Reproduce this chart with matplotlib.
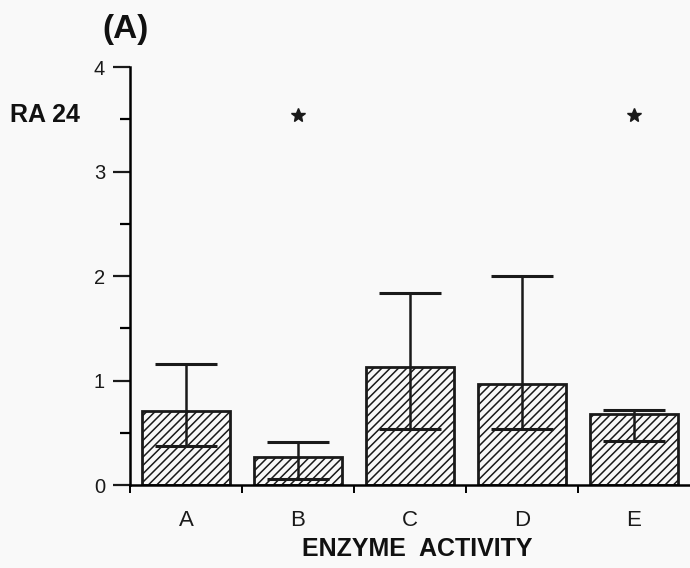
import numpy as np
import matplotlib
matplotlib.use("Agg")
import matplotlib.pyplot as plt

# values
categories = ["A", "B", "C", "D", "E"]
means = [0.71, 0.27, 1.13, 0.97, 0.68]
upper = [1.155, 0.41, 1.84, 2.00, 0.72]   # top of error bar
lower = [0.37, 0.06, 0.54, 0.54, 0.42]    # bottom of error bar
star_idx = [1, 4]                          # significant groups
star_y = 3.54

plt.rcParams["font.family"] = ["Liberation Sans", "DejaVu Sans"]
plt.rcParams["hatch.linewidth"] = 1.1

bg = "#f9f9f9"
fig = plt.figure(figsize=(6.9, 5.68), dpi=100, facecolor=bg)
ax = fig.add_axes([0.1884, 0.146, 0.8116, 0.736], facecolor=bg)

x = np.arange(len(categories))
ax.bar(x, means, width=0.79, color="none", edgecolor="#1a1a1a",
       linewidth=2, hatch="////", zorder=2)

# asymmetric error bars, drawn both above and below the bar top
err_lo = np.array(means) - np.array(lower)
err_hi = np.array(upper) - np.array(means)
ax.errorbar(x, means, yerr=[err_lo, err_hi], fmt="none", ecolor="#1a1a1a",
            elinewidth=1.8, capsize=22, capthick=2.2, zorder=3)

ax.plot(x[star_idx], [star_y] * len(star_idx), marker="*", linestyle="none",
        color="#1a1a1a", markersize=10)

ax.set_xlim(-0.5, 4.5)
ax.set_ylim(0, 4)
for s in ["top", "right"]:
    ax.spines[s].set_visible(False)
ax.spines["left"].set_linewidth(1.8)
ax.spines["bottom"].set_linewidth(1.8)

ax.set_yticks([0, 1, 2, 3, 4])
ax.set_yticks([0.5, 1.5, 2.5, 3.5], minor=True)
ax.set_xticks([-0.5, 0.5, 1.5, 2.5, 3.5])
ax.set_xticklabels([])
ax.tick_params(axis="y", which="major", length=12, width=1.6, labelsize=14.5,
               pad=6, colors="#1a1a1a")
ax.tick_params(axis="y", which="minor", length=7, width=1.6)
ax.tick_params(axis="x", which="major", length=6, width=1.4)

for xi, c in zip(x, categories):
    ax.text(xi, -0.335, c, ha="center", va="center", fontsize=16,
            color="#1a1a1a")

fig.text(0.604, 0.034, "ENZYME  ACTIVITY", ha="center", va="center",
         fontsize=18, fontweight="bold", color="#111111")
fig.text(0.014, 0.797, "RA 24", ha="left", va="center", fontsize=18,
         fontweight="bold", color="#111111")
fig.text(0.149, 0.948, "(A)", ha="left", va="center", fontsize=24,
         fontweight="bold", color="#111111")

fig.savefig("out.png", dpi=100, facecolor=bg)
